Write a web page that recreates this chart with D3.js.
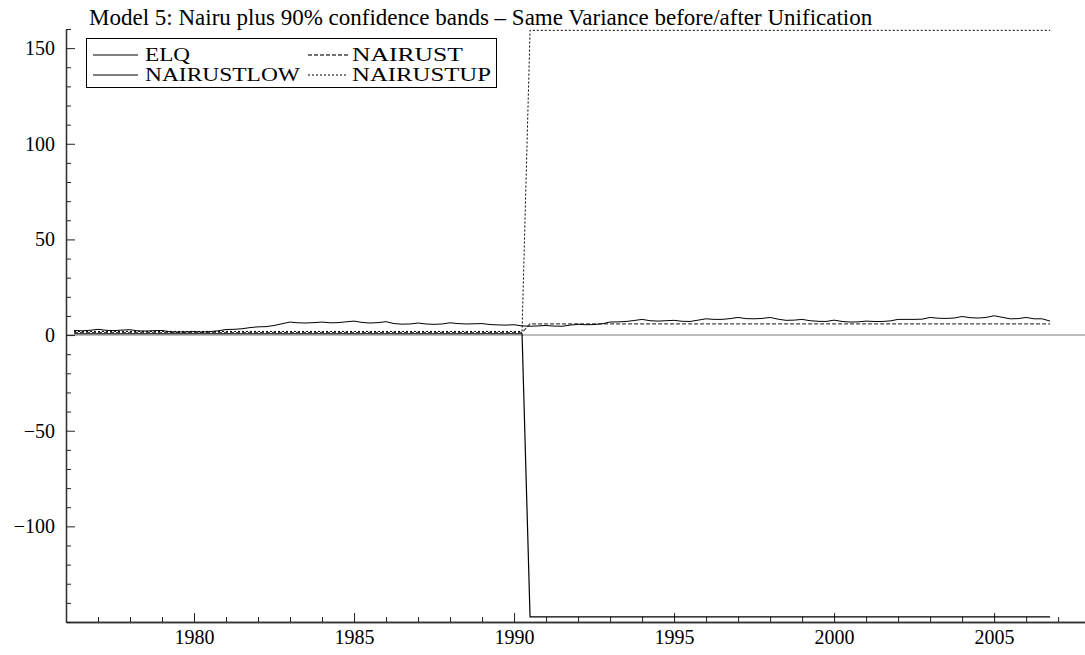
<!DOCTYPE html>
<html>
<head>
<meta charset="utf-8">
<script src="https://cdn.jsdelivr.net/npm/d3@7/dist/d3.min.js"></script>
<style>
  html, body { margin: 0; padding: 0; background: #fff; }
  svg { display: block; }
  text { font-family: "Liberation Serif", "Times New Roman", serif; fill: #000; }
</style>
</head>
<body>
<svg id="chart" width="1085" height="655"></svg>
<script>
// ---------------- data (quarterly, first obs 1976Q2, last 2006Q4) ----------------
const firstQuarter = 1976.25;
const title = "Model 5: Nairu plus 90% confidence bands \u2013 Same Variance before/after Unification";
const seriesNames = ["ELQ", "NAIRUST", "NAIRUSTLOW", "NAIRUSTUP"];
const xTickLabels = [1980, 1985, 1990, 1995, 2000, 2005];
const yTickLabels = [-100, -50, 0, 50, 100, 150];

const elq = [
  /*1976*/ 2.4, 2.2, 2.5,
  /*1977*/ 3.0, 2.5, 2.3, 2.6,
  /*1978*/ 2.8, 2.2, 2.1, 2.3,
  /*1979*/ 2.4, 1.7, 1.6, 1.7,
  /*1980*/ 1.8, 1.6, 1.8, 2.2,
  /*1981*/ 2.9, 3.0, 3.3, 3.9,
  /*1982*/ 4.3, 4.4, 5.0, 5.9,
  /*1983*/ 6.8, 6.4, 6.3, 6.5,
  /*1984*/ 6.8, 6.4, 6.5, 6.9,
  /*1985*/ 7.3, 6.6, 6.3, 6.5,
  /*1986*/ 7.0, 6.0, 5.7, 5.8,
  /*1987*/ 6.3, 5.8, 5.6, 5.8,
  /*1988*/ 6.4, 6.0, 5.8, 5.9,
  /*1989*/ 6.0, 5.5, 5.3, 5.2,
  /*1990*/ 5.4, 4.8, 4.6, 4.8,
  /*1991*/ 5.0, 4.7, 4.6, 5.2,
  /*1992*/ 5.6, 5.4, 5.5, 5.9,
  /*1993*/ 6.8, 6.9, 7.1, 7.6,
  /*1994*/ 8.2, 7.5, 7.3, 7.5,
  /*1995*/ 7.7, 7.2, 7.1, 7.8,
  /*1996*/ 8.5, 8.2, 8.2, 8.6,
  /*1997*/ 9.2, 8.6, 8.5, 8.7,
  /*1998*/ 9.2, 8.3, 7.7, 7.8,
  /*1999*/ 8.2, 7.5, 7.2, 7.1,
  /*2000*/ 7.8, 7.1, 6.8, 6.9,
  /*2001*/ 7.3, 7.1, 7.1, 7.4,
  /*2002*/ 8.2, 8.2, 8.2, 8.3,
  /*2003*/ 9.2, 8.8, 8.7, 8.9,
  /*2004*/ 9.7, 9.1, 8.9, 9.2,
  /*2005*/ 10.1, 9.3, 8.5, 8.6,
  /*2006*/ 9.2, 8.5, 8.5, 7.3
];

const nairust = [
  /*1976*/ 1.3, 1.3, 1.3,
  /*1977*/ 1.3, 1.3, 1.3, 1.3,
  /*1978*/ 1.3, 1.3, 1.3, 1.3,
  /*1979*/ 1.3, 1.3, 1.3, 1.3,
  /*1980*/ 1.3, 1.3, 1.3, 1.3,
  /*1981*/ 1.3, 1.3, 1.3, 1.3,
  /*1982*/ 1.3, 1.3, 1.3, 1.3,
  /*1983*/ 1.3, 1.3, 1.3, 1.3,
  /*1984*/ 1.3, 1.3, 1.3, 1.3,
  /*1985*/ 1.3, 1.3, 1.3, 1.3,
  /*1986*/ 1.3, 1.3, 1.3, 1.3,
  /*1987*/ 1.3, 1.3, 1.3, 1.3,
  /*1988*/ 1.3, 1.3, 1.3, 1.3,
  /*1989*/ 1.3, 1.3, 1.3, 1.3,
  /*1990*/ 1.3, 1.3, 5.9, 5.9,
  /*1991*/ 5.9, 5.9, 5.9, 5.9,
  /*1992*/ 5.9, 5.9, 5.9, 5.9,
  /*1993*/ 5.9, 5.9, 5.9, 5.9,
  /*1994*/ 5.9, 5.9, 5.9, 5.9,
  /*1995*/ 5.9, 5.9, 5.9, 5.9,
  /*1996*/ 5.9, 5.9, 5.9, 5.9,
  /*1997*/ 5.9, 5.9, 5.9, 5.9,
  /*1998*/ 5.9, 5.9, 5.9, 5.9,
  /*1999*/ 5.9, 5.9, 5.9, 5.9,
  /*2000*/ 5.9, 5.9, 5.9, 5.9,
  /*2001*/ 5.9, 5.9, 5.9, 5.9,
  /*2002*/ 5.9, 5.9, 5.9, 5.9,
  /*2003*/ 5.9, 5.9, 5.9, 5.9,
  /*2004*/ 5.9, 5.9, 5.9, 5.9,
  /*2005*/ 5.9, 5.9, 5.9, 5.9,
  /*2006*/ 5.9, 5.9, 5.9, 5.9
];

const nairustLow = [
  /*1976*/ 0.7, 0.7, 0.7,
  /*1977*/ 0.7, 0.7, 0.7, 0.7,
  /*1978*/ 0.7, 0.7, 0.7, 0.7,
  /*1979*/ 0.7, 0.7, 0.7, 0.7,
  /*1980*/ 0.7, 0.7, 0.7, 0.7,
  /*1981*/ 0.7, 0.7, 0.7, 0.7,
  /*1982*/ 0.7, 0.7, 0.7, 0.7,
  /*1983*/ 0.7, 0.7, 0.7, 0.7,
  /*1984*/ 0.7, 0.7, 0.7, 0.7,
  /*1985*/ 0.7, 0.7, 0.7, 0.7,
  /*1986*/ 0.7, 0.7, 0.7, 0.7,
  /*1987*/ 0.7, 0.7, 0.7, 0.7,
  /*1988*/ 0.7, 0.7, 0.7, 0.7,
  /*1989*/ 0.7, 0.7, 0.7, 0.7,
  /*1990*/ 0.7, 0.7, -147.3, -147.3,
  /*1991*/ -147.3, -147.3, -147.3, -147.3,
  /*1992*/ -147.3, -147.3, -147.3, -147.3,
  /*1993*/ -147.3, -147.3, -147.3, -147.3,
  /*1994*/ -147.3, -147.3, -147.3, -147.3,
  /*1995*/ -147.3, -147.3, -147.3, -147.3,
  /*1996*/ -147.3, -147.3, -147.3, -147.3,
  /*1997*/ -147.3, -147.3, -147.3, -147.3,
  /*1998*/ -147.3, -147.3, -147.3, -147.3,
  /*1999*/ -147.3, -147.3, -147.3, -147.3,
  /*2000*/ -147.3, -147.3, -147.3, -147.3,
  /*2001*/ -147.3, -147.3, -147.3, -147.3,
  /*2002*/ -147.3, -147.3, -147.3, -147.3,
  /*2003*/ -147.3, -147.3, -147.3, -147.3,
  /*2004*/ -147.3, -147.3, -147.3, -147.3,
  /*2005*/ -147.3, -147.3, -147.3, -147.3,
  /*2006*/ -147.3, -147.3, -147.3, -147.3
];

const nairustUp = [
  /*1976*/ 1.9, 1.9, 1.9,
  /*1977*/ 1.9, 1.9, 1.9, 1.9,
  /*1978*/ 1.9, 1.9, 1.9, 1.9,
  /*1979*/ 1.9, 1.9, 1.9, 1.9,
  /*1980*/ 1.9, 1.9, 1.9, 1.9,
  /*1981*/ 1.9, 1.9, 1.9, 1.9,
  /*1982*/ 1.9, 1.9, 1.9, 1.9,
  /*1983*/ 1.9, 1.9, 1.9, 1.9,
  /*1984*/ 1.9, 1.9, 1.9, 1.9,
  /*1985*/ 1.9, 1.9, 1.9, 1.9,
  /*1986*/ 1.9, 1.9, 1.9, 1.9,
  /*1987*/ 1.9, 1.9, 1.9, 1.9,
  /*1988*/ 1.9, 1.9, 1.9, 1.9,
  /*1989*/ 1.9, 1.9, 1.9, 1.9,
  /*1990*/ 1.9, 1.9, 159.3, 159.3,
  /*1991*/ 159.3, 159.3, 159.3, 159.3,
  /*1992*/ 159.3, 159.3, 159.3, 159.3,
  /*1993*/ 159.3, 159.3, 159.3, 159.3,
  /*1994*/ 159.3, 159.3, 159.3, 159.3,
  /*1995*/ 159.3, 159.3, 159.3, 159.3,
  /*1996*/ 159.3, 159.3, 159.3, 159.3,
  /*1997*/ 159.3, 159.3, 159.3, 159.3,
  /*1998*/ 159.3, 159.3, 159.3, 159.3,
  /*1999*/ 159.3, 159.3, 159.3, 159.3,
  /*2000*/ 159.3, 159.3, 159.3, 159.3,
  /*2001*/ 159.3, 159.3, 159.3, 159.3,
  /*2002*/ 159.3, 159.3, 159.3, 159.3,
  /*2003*/ 159.3, 159.3, 159.3, 159.3,
  /*2004*/ 159.3, 159.3, 159.3, 159.3,
  /*2005*/ 159.3, 159.3, 159.3, 159.3,
  /*2006*/ 159.3, 159.3, 159.3, 159.3
];

(function draw() {
  const svg = d3.select("#chart");
  const mLeft = 66, mRight = 1085, mTop = 29, mBottom = 622;
  const font = '"Liberation Serif", "Times New Roman", serif';

  const x = d3.scaleLinear().domain([1976, 2007.84]).range([mLeft, mRight]);
  const y = d3.scaleLinear().domain([-150, 160]).range([mBottom, mTop]);
  const tOf = i => firstQuarter + i / 4;

  // zero reference line
  svg.append("line")
    .attr("x1", mLeft).attr("x2", mRight)
    .attr("y1", y(0)).attr("y2", y(0))
    .attr("stroke", "#bdbdbd").attr("stroke-width", 2);

  // axes
  const minorYears = d3.range(1977, 2008).filter(v => v % 5 !== 0);
  svg.append("g").attr("transform", `translate(0,${mBottom})`)
    .call(d3.axisBottom(x).tickValues(minorYears).tickSize(-5).tickSizeOuter(0).tickFormat(""));
  const xMajor = svg.append("g").attr("transform", `translate(0,${mBottom})`)
    .call(d3.axisBottom(x).tickValues(xTickLabels).tickSize(-9).tickSizeOuter(0).tickPadding(8).tickFormat(d3.format("d")));
  xMajor.selectAll("text").attr("font-size", 20).attr("font-family", font);

  const minorY = d3.range(-150, 161, 10).filter(v => v % 50 !== 0 || v === -150);
  svg.append("g").attr("transform", `translate(${mLeft},0)`)
    .call(d3.axisLeft(y).tickValues(minorY).tickSize(-5).tickSizeOuter(0).tickFormat(""));
  const yMajor = svg.append("g").attr("transform", `translate(${mLeft},0)`)
    .call(d3.axisLeft(y).tickValues(yTickLabels).tickSize(-9).tickSizeOuter(0).tickPadding(11)
      .tickFormat(d => d < 0 ? "\u2212" + Math.abs(d) : String(d)));
  yMajor.selectAll("text").attr("font-size", 20).attr("font-family", font);

  svg.selectAll(".domain").attr("stroke", "#333").attr("stroke-width", 1.3);
  svg.selectAll(".tick line").attr("stroke", "#222").attr("stroke-width", 1);

  // series
  const line = d3.line().x((d, i) => x(tOf(i))).y(d => y(d));
  const styles = {
    ELQ:        { data: elq,        color: "#000", width: 1,   dash: null },
    NAIRUST:    { data: nairust,    color: "#444", width: 1.3, dash: "4,2" },
    NAIRUSTLOW: { data: nairustLow, color: "#000", width: 1.2, dash: null },
    NAIRUSTUP:  { data: nairustUp,  color: "#000", width: 1,   dash: "2,2" }
  };
  ["NAIRUSTLOW", "NAIRUSTUP", "NAIRUST", "ELQ"].forEach(k => {
    const s = styles[k];
    svg.append("path")
      .attr("d", line(s.data))
      .attr("fill", "none")
      .attr("stroke", s.color)
      .attr("stroke-width", s.width)
      .attr("stroke-dasharray", s.dash);
  });

  // title
  svg.append("text")
    .attr("x", 89).attr("y", 25)
    .attr("font-size", 23)
    .attr("font-family", font)
    .text(title);

  // legend
  const lg = svg.append("g");
  lg.append("rect")
    .attr("x", 86.5).attr("y", 38.5).attr("width", 410).attr("height", 49)
    .attr("fill", "#fff").attr("stroke", "#000").attr("stroke-width", 1);
  const legendItems = [
    { name: "ELQ", col: 0, row: 0, w: 45 },
    { name: "NAIRUST", col: 1, row: 0, w: 111 },
    { name: "NAIRUSTLOW", col: 0, row: 1, w: 155 },
    { name: "NAIRUSTUP", col: 1, row: 1, w: 139 }
  ];
  const colX = [93, 308];
  const rowBase = [61, 81];
  legendItems.forEach(it => {
    const s = styles[it.name];
    const lx = colX[it.col], base = rowBase[it.row];
    lg.append("line")
      .attr("x1", lx).attr("x2", lx + (it.col === 0 ? 45 : 40))
      .attr("y1", base - 6).attr("y2", base - 6)
      .attr("stroke", s.color).attr("stroke-width", s.width)
      .attr("stroke-dasharray", s.dash);
    lg.append("text")
      .attr("x", it.col === 0 ? 145 : 352)
      .attr("y", base)
      .attr("font-size", 18)
      .attr("font-family", font)
      .attr("textLength", it.w)
      .attr("lengthAdjust", "spacingAndGlyphs")
      .text(it.name);
  });
})();
</script>
</body>
</html>
